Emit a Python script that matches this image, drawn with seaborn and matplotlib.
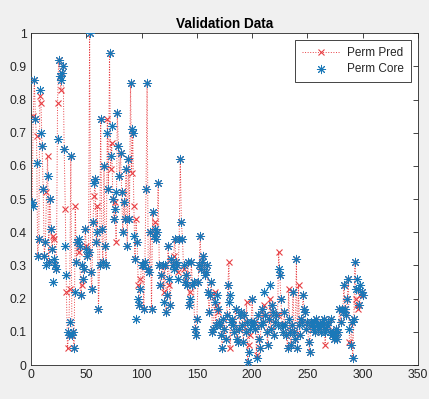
import numpy as np
import pandas as pd
import matplotlib
matplotlib.use("Agg")
import matplotlib.pyplot as plt
import seaborn as sns

sns.set_style("white")
plt.rcParams['font.family'] = ['Liberation Sans', 'DejaVu Sans']

perm_core = [
    0.49, 0.48, 0.86, 0.74, 0.61, 0.33, 0.38, 0.83, 0.70, 0.66,
    0.53, 0.33, 0.37, 0.30, 0.57, 0.31, 0.50, 0.41, 0.35, 0.25,
    0.32, 0.30, 0.29, 0.68, 0.92, 0.87, 0.86, 0.88, 0.90, 0.65,
    0.36, 0.27, 0.10, 0.09, 0.13, 0.63, 0.09, 0.10, 0.05, 0.22,
    0.31, 0.37, 0.38, 0.36, 0.21, 0.30, 0.26, 0.29, 0.41, 0.35,
    0.33, 0.34, 1.00, 0.28, 0.23, 0.43, 0.55, 0.56, 0.37, 0.40,
    0.17, 0.30, 0.74, 0.41, 0.31, 0.60, 0.36, 0.30, 0.70, 0.53,
    0.94, 0.63, 0.72, 0.50, 0.44, 0.47, 0.52, 0.76, 0.66, 0.57,
    0.64, 0.52, 0.40, 0.49, 0.44, 0.59, 0.36, 0.62, 0.44, 0.85,
    0.71, 0.70, 0.39, 0.32, 0.14, 0.37, 0.20, 0.18, 0.23, 0.30,
    0.30, 0.17, 0.31, 0.53, 0.85, 0.29, 0.28, 0.40, 0.17, 0.46,
    0.39, 0.41, 0.38, 0.40, 0.55, 0.30, 0.24, 0.27, 0.30, 0.19,
    0.30, 0.16, 0.21, 0.36, 0.26, 0.18, 0.32, 0.30, 0.29, 0.38,
    0.31, 0.30, 0.26, 0.38, 0.62, 0.43, 0.38, 0.30, 0.25, 0.27,
    0.24, 0.31, 0.18, 0.20, 0.31, 0.24, 0.25, 0.11, 0.09, 0.14,
    0.25, 0.30, 0.39, 0.29, 0.31, 0.33, 0.27, 0.28, 0.30, 0.22,
    0.16, 0.21, 0.25, 0.10, 0.11, 0.19, 0.12, 0.21, 0.17, 0.13,
    0.12, 0.09, 0.05, 0.14, 0.11, 0.08, 0.15, 0.24, 0.19, 0.21,
    0.13, 0.14, 0.12, 0.10, 0.17, 0.08, 0.07, 0.11, 0.15, 0.16,
    0.12, 0.07, 0.15, 0.10, 0.13, 0.01, 0.04, 0.11, 0.13, 0.20,
    0.12, 0.13, 0.11, 0.02, 0.15, 0.08, 0.05, 0.12, 0.17, 0.13,
    0.22, 0.15, 0.10, 0.06, 0.14, 0.24, 0.11, 0.18, 0.16, 0.09,
    0.13, 0.15, 0.12, 0.29, 0.27, 0.20, 0.12, 0.10, 0.16, 0.12,
    0.09, 0.05, 0.14, 0.10, 0.06, 0.12, 0.22, 0.10, 0.08, 0.32,
    0.05, 0.12, 0.09, 0.14, 0.13, 0.21, 0.17, 0.16, 0.11, 0.13,
    0.07, 0.04, 0.13, 0.12, 0.11, 0.13, 0.10, 0.14, 0.12, 0.11,
    0.12, 0.10, 0.13, 0.12, 0.14, 0.10, 0.11, 0.12, 0.13, 0.10,
    0.14, 0.09, 0.10, 0.08, 0.09, 0.11, 0.08, 0.10, 0.17, 0.13,
    0.17, 0.16, 0.24, 0.17, 0.15, 0.20, 0.26, 0.11, 0.06, 0.13,
    0.02, 0.14, 0.31, 0.23, 0.26, 0.23, 0.18, 0.24, 0.22, 0.21,
]

perm_pred = [
    0.49, 0.75, 0.86, 0.74, 0.69, 0.33, 0.38, 0.81, 0.79, 0.66,
    0.53, 0.33, 0.37, 0.52, 0.63, 0.31, 0.50, 0.41, 0.35, 0.39,
    0.38, 0.30, 0.29, 0.79, 0.92, 0.87, 0.83, 0.88, 0.90, 0.65,
    0.47, 0.22, 0.05, 0.09, 0.23, 0.63, 0.09, 0.10, 0.05, 0.48,
    0.31, 0.37, 0.34, 0.36, 0.21, 0.24, 0.26, 0.29, 0.41, 0.36,
    0.33, 0.34, 1.00, 0.28, 0.23, 0.43, 0.51, 0.56, 0.37, 0.48,
    0.17, 0.30, 0.74, 0.41, 0.31, 0.60, 0.36, 0.30, 0.74, 0.53,
    0.94, 0.59, 0.67, 0.50, 0.44, 0.49, 0.37, 0.76, 0.66, 0.57,
    0.64, 0.52, 0.40, 0.49, 0.44, 0.59, 0.36, 0.62, 0.44, 0.85,
    0.58, 0.70, 0.48, 0.32, 0.44, 0.37, 0.24, 0.18, 0.26, 0.30,
    0.30, 0.17, 0.31, 0.53, 0.85, 0.29, 0.28, 0.40, 0.17, 0.46,
    0.39, 0.43, 0.38, 0.40, 0.55, 0.30, 0.24, 0.27, 0.30, 0.22,
    0.30, 0.16, 0.21, 0.36, 0.24, 0.18, 0.32, 0.30, 0.33, 0.38,
    0.31, 0.30, 0.28, 0.38, 0.62, 0.43, 0.38, 0.29, 0.25, 0.27,
    0.24, 0.31, 0.18, 0.22, 0.31, 0.24, 0.25, 0.11, 0.09, 0.14,
    0.25, 0.30, 0.39, 0.29, 0.31, 0.33, 0.27, 0.28, 0.30, 0.22,
    0.16, 0.21, 0.25, 0.10, 0.11, 0.22, 0.12, 0.18, 0.16, 0.13,
    0.12, 0.09, 0.05, 0.14, 0.11, 0.08, 0.15, 0.24, 0.31, 0.05,
    0.13, 0.14, 0.12, 0.10, 0.17, 0.08, 0.07, 0.11, 0.15, 0.16,
    0.12, 0.07, 0.15, 0.10, 0.19, 0.01, 0.06, 0.09, 0.13, 0.20,
    0.12, 0.13, 0.11, 0.03, 0.15, 0.08, 0.05, 0.12, 0.17, 0.13,
    0.18, 0.15, 0.10, 0.06, 0.14, 0.20, 0.11, 0.18, 0.16, 0.09,
    0.13, 0.15, 0.15, 0.34, 0.27, 0.20, 0.12, 0.10, 0.16, 0.12,
    0.09, 0.05, 0.23, 0.10, 0.06, 0.12, 0.22, 0.10, 0.08, 0.32,
    0.05, 0.24, 0.09, 0.14, 0.13, 0.21, 0.17, 0.16, 0.11, 0.13,
    0.07, 0.04, 0.13, 0.12, 0.11, 0.13, 0.10, 0.14, 0.12, 0.11,
    0.12, 0.10, 0.13, 0.12, 0.14, 0.06, 0.11, 0.12, 0.13, 0.10,
    0.14, 0.09, 0.10, 0.08, 0.09, 0.11, 0.08, 0.10, 0.17, 0.13,
    0.17, 0.16, 0.24, 0.17, 0.15, 0.20, 0.26, 0.07, 0.06, 0.13,
    0.02, 0.14, 0.31, 0.20, 0.18, 0.17, 0.18, 0.21, 0.22, 0.21,
]

sample_idx = list(range(1, len(perm_core) + 1))
x_ticks = [0, 50, 100, 150, 200, 250, 300, 350]
y_ticks = [0, 0.1, 0.2, 0.3, 0.4, 0.5, 0.6, 0.7, 0.8, 0.9, 1.0]
y_tick_labels = ["0", "0.1", "0.2", "0.3", "0.4", "0.5", "0.6", "0.7", "0.8", "0.9", "1"]

df = pd.DataFrame({"idx": sample_idx, "pred": perm_pred, "core": perm_core})

fig = plt.figure(figsize=(4.29, 3.99), dpi=100, facecolor="#F0F0F0")
ax = fig.add_axes([0.0723, 0.085, 0.902, 0.832])
ax.set_facecolor("white")

red = "#E84045"
blue = "#1A78B8"

sns.lineplot(data=df, x="idx", y="pred", ax=ax, color=red, linestyle=":",
             linewidth=0.7, marker="x", markersize=5, markeredgewidth=0.8,
             markeredgecolor=red, label="Perm Pred", zorder=2, estimator=None, sort=False)
sns.scatterplot(data=df, x="idx", y="core", ax=ax, color=blue, marker=(8, 2, 0),
                s=36, linewidth=0.7, edgecolor=blue, label="Perm Core", zorder=3)

ax.set_xlim(0, 350)
ax.set_ylim(0, 1)
ax.set_xticks(x_ticks)
ax.set_yticks(y_ticks)
ax.set_yticklabels(y_tick_labels)
ax.set_xlabel("")
ax.set_ylabel("")
ax.tick_params(direction="in", length=3.5, width=0.6, colors="#262626",
               labelsize=8.8, top=True, right=True, labeltop=False, labelright=False)
ax.tick_params(axis="both", pad=3)
for s in ax.spines.values():
    s.set_color("#262626")
    s.set_linewidth(0.6)
ax.set_title("Validation Data", fontsize=9.8, fontweight="bold", color="black", pad=4)

leg = ax.legend(loc="upper right", frameon=True, fancybox=False, fontsize=8.5,
                edgecolor="#262626", framealpha=1, borderaxespad=0.6,
                handlelength=3.2, handletextpad=0.6, borderpad=0.6, labelspacing=0.35)
leg.get_frame().set_linewidth(0.6)

fig.savefig("out.png", dpi=100, facecolor=fig.get_facecolor())
